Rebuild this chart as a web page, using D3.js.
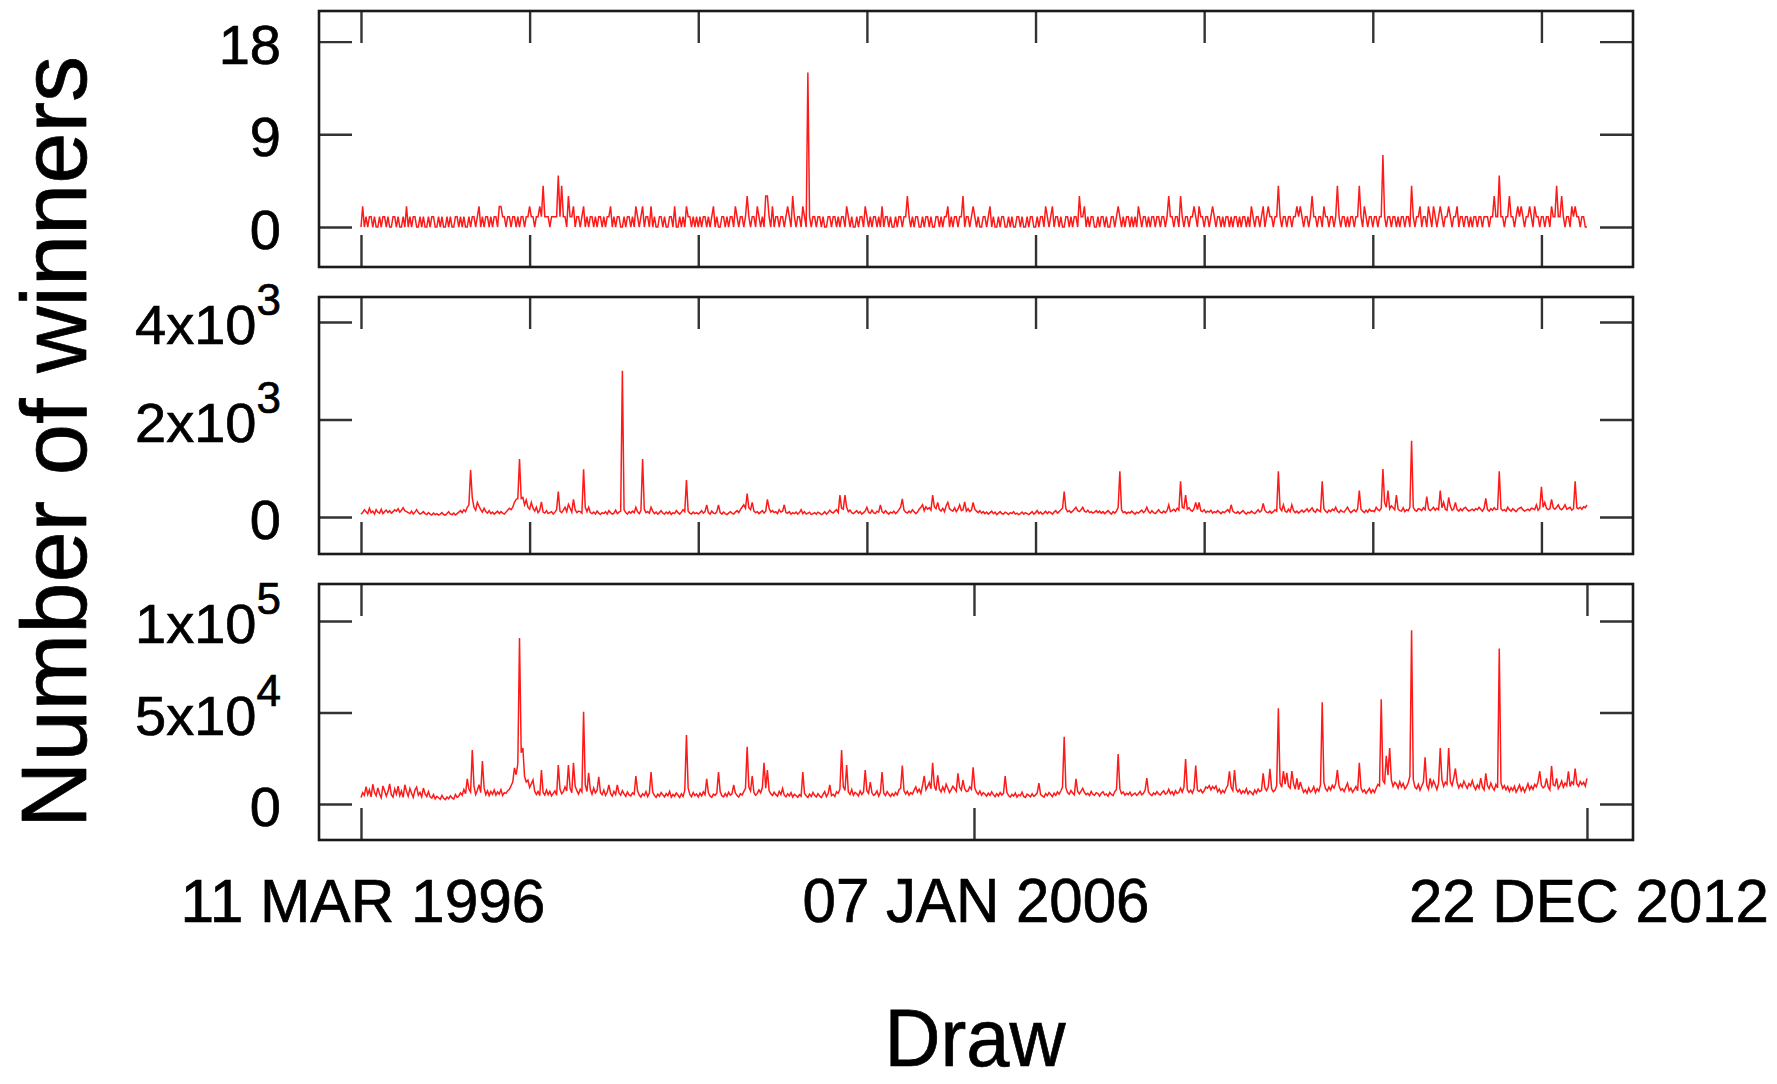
<!DOCTYPE html>
<html>
<head>
<meta charset="utf-8">
<script src="https://cdn.jsdelivr.net/npm/d3@7"></script>
<style>
  html, body { margin: 0; padding: 0; background: #fff; }
  svg { display: block; }
  text { font-family: "Liberation Sans", Arial, Helvetica, sans-serif; fill: #000; stroke: #000; stroke-width: 0.7px; }
</style>
</head>
<body>
<svg id="chart" width="1777" height="1084"></svg>
<script>
// Number of winners per draw, one value per draw, for three prize tiers.
const jackpotWinners = [
  0,2,0,1,0,1,1,0,1,0,0,1,0,1,1,0,1,0,0,1,
  1,0,1,0,0,1,0,2,0,1,0,1,1,0,0,1,0,1,0,0,
  1,0,1,1,0,0,1,0,1,0,0,1,0,1,0,0,1,1,0,1,
  0,1,0,0,1,0,1,1,0,1,2,0,1,0,1,1,0,1,0,1,
  1,0,2,2,1,1,0,1,1,0,1,1,0,1,0,1,1,0,1,1,
  2,1,1,0,1,1,2,1,4,1,1,1,0,1,1,1,1,5,1,4,
  1,1,0,3,1,1,2,0,1,1,0,1,2,0,1,0,1,1,0,1,
  0,1,1,0,1,0,1,1,2,0,1,0,1,1,0,0,1,0,1,1,
  0,1,0,2,1,0,1,2,0,1,1,0,2,0,1,0,0,1,1,0,
  1,0,0,1,1,0,2,0,0,1,0,1,0,2,1,1,0,1,0,1,
  0,1,0,1,1,0,1,0,1,2,0,1,0,0,1,1,0,1,0,1,
  1,0,2,1,0,1,1,0,1,3,1,0,1,1,0,2,1,0,1,0,
  3,3,1,0,2,0,1,1,0,1,1,0,1,2,1,0,3,1,0,1,
  1,0,2,1,0,15,1,0,1,1,0,1,1,0,1,0,0,1,1,0,
  1,1,0,1,0,1,1,0,2,1,0,1,0,0,1,0,1,1,0,2,
  1,0,1,0,1,1,0,1,0,2,0,1,1,0,1,0,0,1,0,1,
  1,0,1,1,3,1,0,1,0,1,1,0,0,1,0,1,1,0,1,0,
  0,1,1,0,1,0,1,1,2,0,1,0,1,1,0,1,1,3,0,1,
  1,0,1,2,1,0,1,0,0,1,1,0,1,2,0,1,0,0,1,0,
  1,1,0,0,1,0,1,0,0,1,1,0,1,0,0,1,0,1,1,0,
  0,1,0,1,1,0,2,1,0,1,2,0,1,1,0,1,0,0,1,1,
  0,1,0,1,1,0,3,1,1,2,0,1,0,1,1,0,0,1,0,1,
  1,0,1,0,0,1,1,0,1,2,1,0,1,0,1,1,0,1,0,1,
  0,2,1,0,1,1,0,1,0,1,1,0,1,1,0,1,1,0,1,3,
  1,1,0,1,1,0,3,1,0,1,1,0,1,1,2,1,0,2,1,1,
  0,1,1,0,1,2,1,0,1,1,0,1,0,1,1,0,1,0,1,1,
  0,1,0,1,1,0,1,0,2,1,0,1,1,0,1,2,0,1,2,1,
  1,0,1,1,4,1,0,1,1,0,1,1,0,1,1,2,1,2,1,0,
  1,1,0,1,3,1,1,0,1,1,0,2,1,1,0,1,1,0,1,4,
  1,0,1,1,0,1,0,1,1,0,1,1,4,1,0,2,1,0,1,1,
  0,1,1,0,1,1,7,1,0,1,1,0,1,1,0,1,0,1,1,0,
  1,1,0,4,1,0,1,1,2,0,1,1,0,2,1,0,2,1,0,1,
  2,1,0,1,1,2,1,0,1,1,2,0,1,1,0,1,1,0,1,0,
  1,1,0,1,1,0,1,1,1,0,1,1,3,1,1,5,1,1,0,1,
  1,3,1,1,0,1,2,1,2,1,0,1,1,2,1,0,2,1,1,0,
  1,1,0,1,1,0,2,1,1,4,1,1,3,1,0,1,1,0,2,1,
  2,1,1,0,1,1,0,0
];

const secondTierWinners = [
  60,90,150,110,70,180,90,120,60,150,100,80,160,70,110,140,90,130,80,110,
  150,120,170,100,140,190,130,110,90,70,120,60,100,150,90,60,80,110,70,50,
  90,60,40,80,50,70,40,60,90,50,40,70,110,60,50,80,40,70,100,130,
  90,150,110,200,250,965,390,200,140,300,220,150,100,180,110,80,130,70,100,60,
  90,120,70,110,80,60,100,140,180,150,200,300,360,380,1190,380,400,250,350,200,
  160,300,180,120,200,90,140,310,100,80,130,70,90,110,60,100,150,520,120,90,
  140,200,110,260,180,100,360,150,90,120,110,80,980,200,110,200,90,70,100,60,
  120,80,50,90,70,110,60,130,90,60,80,140,70,100,120,3000,150,90,60,110,
  80,120,90,200,110,70,130,1190,160,90,110,80,200,120,70,100,60,90,130,80,
  60,100,70,110,50,90,70,130,90,60,100,150,110,760,120,80,60,100,70,90,
  60,90,130,80,110,250,90,60,120,80,70,110,250,90,60,100,70,50,80,110,
  80,60,100,130,90,150,200,250,180,480,190,150,300,120,90,110,70,100,130,80,
  120,360,180,100,130,90,110,70,150,100,120,250,90,80,110,60,90,70,100,60,
  90,150,70,110,60,80,100,50,70,90,60,100,80,50,70,110,60,90,140,100,
  80,120,150,90,450,180,160,450,200,110,140,90,70,100,130,80,110,60,90,120,
  200,100,80,140,90,70,120,100,250,110,80,130,90,60,100,80,120,70,100,150,
  200,370,140,100,80,120,90,150,110,70,100,160,200,250,130,210,160,190,140,450,
  210,170,300,150,120,180,110,230,300,170,140,120,190,110,160,250,130,150,310,120,
  170,110,140,300,160,120,90,130,80,110,70,100,60,90,120,70,100,50,80,110,
  70,60,100,80,50,90,70,110,60,80,50,70,100,60,90,70,50,80,110,60,
  90,130,70,100,60,80,120,70,110,90,60,100,130,80,110,150,180,520,170,110,
  130,90,120,160,200,130,110,150,200,120,100,140,90,110,80,100,130,90,120,80,
  110,70,100,130,90,60,110,80,120,200,940,150,90,110,70,100,80,120,90,60,
  100,80,110,140,90,120,200,110,80,130,90,70,110,150,100,80,120,90,130,250,
  110,130,160,120,180,140,730,200,180,450,160,190,140,120,170,300,150,300,130,110,
  150,90,120,100,140,80,110,90,130,100,70,110,90,120,150,100,250,120,90,80,
  110,70,100,130,90,60,100,80,120,90,70,110,150,100,130,280,140,100,90,120,
  80,110,150,120,940,180,130,250,120,100,160,110,250,130,90,120,80,110,140,100,
  130,170,110,150,190,120,100,160,130,110,730,170,120,90,140,110,160,130,200,120,
  90,140,110,100,150,200,130,90,120,150,110,170,540,160,120,90,140,100,160,120,
  130,110,200,150,130,180,985,300,200,540,170,230,190,150,450,160,130,120,190,110,
  150,130,200,1565,200,140,120,170,160,130,190,150,420,170,130,160,200,140,180,150,
  540,190,300,160,140,400,220,140,170,300,150,120,170,130,180,200,150,120,140,160,
  130,170,150,200,160,120,180,380,150,120,170,140,190,150,160,940,170,130,150,120,
  200,150,120,170,140,110,160,180,200,150,120,140,160,130,180,170,150,250,140,180,
  620,200,300,180,150,170,360,190,160,200,250,170,150,190,250,160,180,200,140,170,
  730,190,170,200,160,210,190,250
];

const thirdTierWinners = [
  3500,6200,4800,9500,5200,7800,3900,10800,6400,4500,8800,5600,3400,9900,7200,4300,6800,11000,5100,3800,
  8200,5400,9800,4600,7100,3600,10500,6900,4200,8500,5900,3700,7600,9200,4800,6300,3900,8700,5500,4100,
  6800,3900,3200,5100,2800,4200,3400,2600,4700,3100,2400,3800,2900,4500,3300,2700,5200,3600,4400,6100,
  4800,7900,5600,13700,8200,6500,29500,9800,5200,7400,10600,6200,23500,8800,5100,7200,4600,6900,5300,7700,
  4900,6600,5400,7900,4700,6200,5800,7300,8000,10000,12000,19700,16000,22000,90700,28000,30600,15000,12000,13100,
  9000,11000,13100,7000,5200,6800,4600,18600,6300,4900,7600,5100,6900,4400,5800,7200,4800,21300,8200,5600,
  6700,9400,7100,21300,8600,6200,22500,9800,7300,5400,8100,6600,50400,10500,6800,17000,7900,5300,8700,6100,
  7400,14800,6300,5100,7600,4700,6400,10400,5800,4300,6900,5200,10400,6100,4800,7300,5500,4200,6600,5000,
  4400,6100,5300,15300,7200,4900,3800,5600,4600,6800,4100,5900,17400,6500,4700,3600,5400,4200,6300,5000,
  3900,5700,4500,6900,3700,5200,4300,6100,4800,3500,5600,4100,7400,37700,8800,5200,4000,6300,4600,5500,
  3800,5900,4400,6600,5100,13700,6200,4300,3600,5400,4700,6000,17400,6800,4500,3900,5700,4200,6400,4800,
  5500,10400,6100,4600,3800,5600,4900,6800,8600,31300,9200,7100,15300,6300,4800,5800,7700,6100,9000,22500,
  8700,18600,7300,5600,4700,6400,5100,4300,6900,5200,8500,4800,3900,5600,4400,6200,3800,5300,4600,3700,
  5100,4300,17400,5800,4500,3600,5400,4100,6300,4700,3800,5600,4400,3500,5200,6800,4000,5700,10400,4600,
  5300,4100,6700,5900,8100,29500,9600,7400,21300,6500,5200,7900,4800,6300,5600,4400,7100,5200,6600,18600,
  7300,5800,12000,6100,4700,5500,7200,4300,6400,17400,5900,4600,6800,5300,4100,5700,4500,6300,5000,7800,
  8600,21000,7200,5500,6900,4800,6200,5400,7600,9300,6500,8100,5800,10200,15300,7800,9600,11800,8300,22500,
  9900,7400,15700,8200,6600,9300,7100,10800,8500,6300,7900,9700,8400,7000,16700,9100,7600,13000,8300,6800,
  7200,9400,8000,20000,8700,6500,5300,7100,4800,6200,5500,4300,5900,4700,6600,5100,4000,5700,4400,6300,
  4900,5800,15300,6400,4600,3800,5200,4300,6000,3700,5100,4500,6500,4100,3600,5400,4700,3900,5600,4200,
  5000,6100,11400,5300,4400,3800,5700,4600,6300,5200,4000,5900,4700,6600,5400,7100,9200,36800,8900,6200,
  5300,7400,6000,5000,13700,6800,5500,7000,8500,6400,5100,5800,4600,6900,5300,4800,6200,5700,4300,5900,
  6700,4900,5500,4200,6300,5200,4600,6800,8000,27300,8400,5700,6600,4800,5900,5100,6400,4500,5300,6000,
  4700,5600,6900,5000,5800,7600,14200,6500,5300,4600,6100,5200,6800,5500,4900,6300,7200,5400,6000,8100,
  5600,6800,4900,7300,5800,6400,8600,6500,9200,24600,7800,6300,7600,5900,8400,21000,7600,6800,7900,6100,
  7200,9300,8600,10000,7700,9500,8400,9800,6700,8100,5800,7400,6200,8500,10200,17900,9100,7300,18600,8200,
  6600,7900,5700,7200,6100,8400,5500,7000,6300,5100,7600,6000,8200,6800,7500,16700,8900,7300,9400,19200,
  8300,6700,7600,9900,52300,11400,9200,18000,10800,17000,9700,8600,18000,11200,8100,14000,7800,12000,8900,6400,
  7700,5900,8800,6600,7400,9500,6200,8300,7000,10600,55600,11900,8400,7100,9300,7600,10200,8700,11100,18600,
  9800,7500,8400,6800,9200,11400,7300,8700,6500,7900,9600,7200,22500,8900,6600,7700,5800,7200,8500,6100,
  7800,6300,8600,10700,9900,57300,12800,11400,26300,15800,30600,13200,9600,11800,10900,8700,12100,9400,11200,8300,
  9500,11600,15200,95000,13400,9200,8300,10700,7500,9800,11900,25500,10300,8100,14000,9700,12600,10500,7900,11300,
  30600,13200,9600,11900,10800,30600,12300,10100,14100,19400,11700,8800,10900,9300,12500,10400,8600,11200,9900,12800,
  9600,7900,10500,8700,14200,9300,7700,16700,10100,8400,11400,9000,7500,10600,8800,85000,11700,8500,10000,7800,
  9500,6800,8900,7400,9700,6500,8300,10400,7200,9100,6600,8600,11100,7900,9800,8000,10700,9400,12200,17900,
  10200,8800,9600,14000,9300,7700,20800,10500,9900,14000,8400,10100,12600,9200,11400,10000,17900,9600,12100,10800,
  19400,11100,9700,12300,10600,11900,9800,14000
];

// Axis ticks and labels
const drawTickStep = 100;
const dateTickLabels = ["11 MAR 1996", "07 JAN 2006", "22 DEC 2012"];
const jackpotTicks = [0, 9, 18];
const secondTierTicks = [0, 2000, 4000];
const thirdTierTicks = [0, 50000, 100000];
const yAxisTitle = "Number of winners";
const xAxisTitle = "Draw";

// ---- layout ----
const svg = d3.select("#chart");
const frameLeft = 319, frameRight = 1633;
const tickLen = 33;
const nDraws = jackpotWinners.length;

const x = d3.scaleLinear()
  .domain([-24.9, nDraws - 1 + 27.3])
  .range([frameLeft, frameRight]);

const panels = [
  { data: jackpotWinners,    ticks: jackpotTicks,    top: 11,  bottom: 267, domain: [-3.88, 20.97],    sci: false, dates: false },
  { data: secondTierWinners, ticks: secondTierTicks, top: 297, bottom: 554, domain: [-759, 4513],      sci: true,  dates: false },
  { data: thirdTierWinners,  ticks: thirdTierTicks,  top: 584, bottom: 840, domain: [-19672, 120219],  sci: true,  dates: true  }
];

const regularDrawTicks = d3.range(0, nDraws, drawTickStep);
const dateDrawTicks = [0, (nDraws - 1) / 2, nDraws - 1];

function styleTicks(g) {
  g.select(".domain").remove();
  g.selectAll(".tick line").attr("stroke", "#333").attr("stroke-width", 2.4);
  g.selectAll(".tick text").remove();
}

// Draw a text horizontally condensed to a given width, centred on cx.
function condensedText(parent, str, cx, baseline, size, width) {
  const g = parent.append("g");
  const t = g.append("text")
    .attr("x", 0).attr("y", 0)
    .attr("text-anchor", "middle")
    .attr("font-size", size)
    .text(str);
  const natural = t.node().getComputedTextLength();
  const sx = natural > 0 ? width / natural : 1;
  g.attr("transform", `translate(${cx},${baseline}) scale(${sx},1)`);
  return g;
}

panels.forEach(p => {
  const y = d3.scaleLinear().domain(p.domain).range([p.bottom, p.top]);
  const g = svg.append("g");
  const xTicks = p.dates ? dateDrawTicks : regularDrawTicks;

  // inward ticks on all four sides
  g.append("g").attr("transform", `translate(${frameLeft},0)`)
    .call(d3.axisLeft(y).tickValues(p.ticks).tickSizeInner(-tickLen).tickSizeOuter(0)).call(styleTicks);
  g.append("g").attr("transform", `translate(${frameRight},0)`)
    .call(d3.axisRight(y).tickValues(p.ticks).tickSizeInner(-tickLen).tickSizeOuter(0)).call(styleTicks);
  g.append("g").attr("transform", `translate(0,${p.top})`)
    .call(d3.axisTop(x).tickValues(xTicks).tickSizeInner(-32).tickSizeOuter(0)).call(styleTicks);
  g.append("g").attr("transform", `translate(0,${p.bottom})`)
    .call(d3.axisBottom(x).tickValues(xTicks).tickSizeInner(-32).tickSizeOuter(0)).call(styleTicks);

  // series line
  const line = d3.line().x((d, i) => x(i)).y(d => y(d));
  g.append("path")
    .datum(p.data)
    .attr("fill", "none")
    .attr("stroke", "#ff1a1a")
    .attr("stroke-width", 1.5)
    .attr("d", line);

  // frame
  g.append("rect")
    .attr("x", frameLeft).attr("y", p.top)
    .attr("width", frameRight - frameLeft).attr("height", p.bottom - p.top)
    .attr("fill", "none").attr("stroke", "#1a1a1a").attr("stroke-width", 2.6);

  // y tick labels, powers of ten written as superscripts
  p.ticks.forEach(v => {
    const t = g.append("text")
      .attr("x", 281).attr("y", y(v) + 22)
      .attr("text-anchor", "end")
      .attr("font-size", 56);
    if (!p.sci || v === 0) {
      t.text(String(v));
    } else {
      const exp = Math.floor(Math.log10(v));
      const mant = Math.round(v / Math.pow(10, exp));
      t.append("tspan").text(mant + "x10");
      t.append("tspan").attr("font-size", 44).attr("dy", -29).text(String(exp));
    }
  });

  // date labels under the last panel
  if (p.dates) {
    const widths = [365, 347, 360];
    dateDrawTicks.forEach((d, i) => {
      condensedText(svg, dateTickLabels[i], x(d) + 2, 922, 62, widths[i]);
    });
  }
});

// axis titles
condensedText(svg, xAxisTitle, 975, 1066, 82, 181);

svg.append("text")
  .attr("transform", "translate(86,442) rotate(-90)")
  .attr("text-anchor", "middle")
  .attr("font-size", 92)
  .text(yAxisTitle);
</script>
</body>
</html>
